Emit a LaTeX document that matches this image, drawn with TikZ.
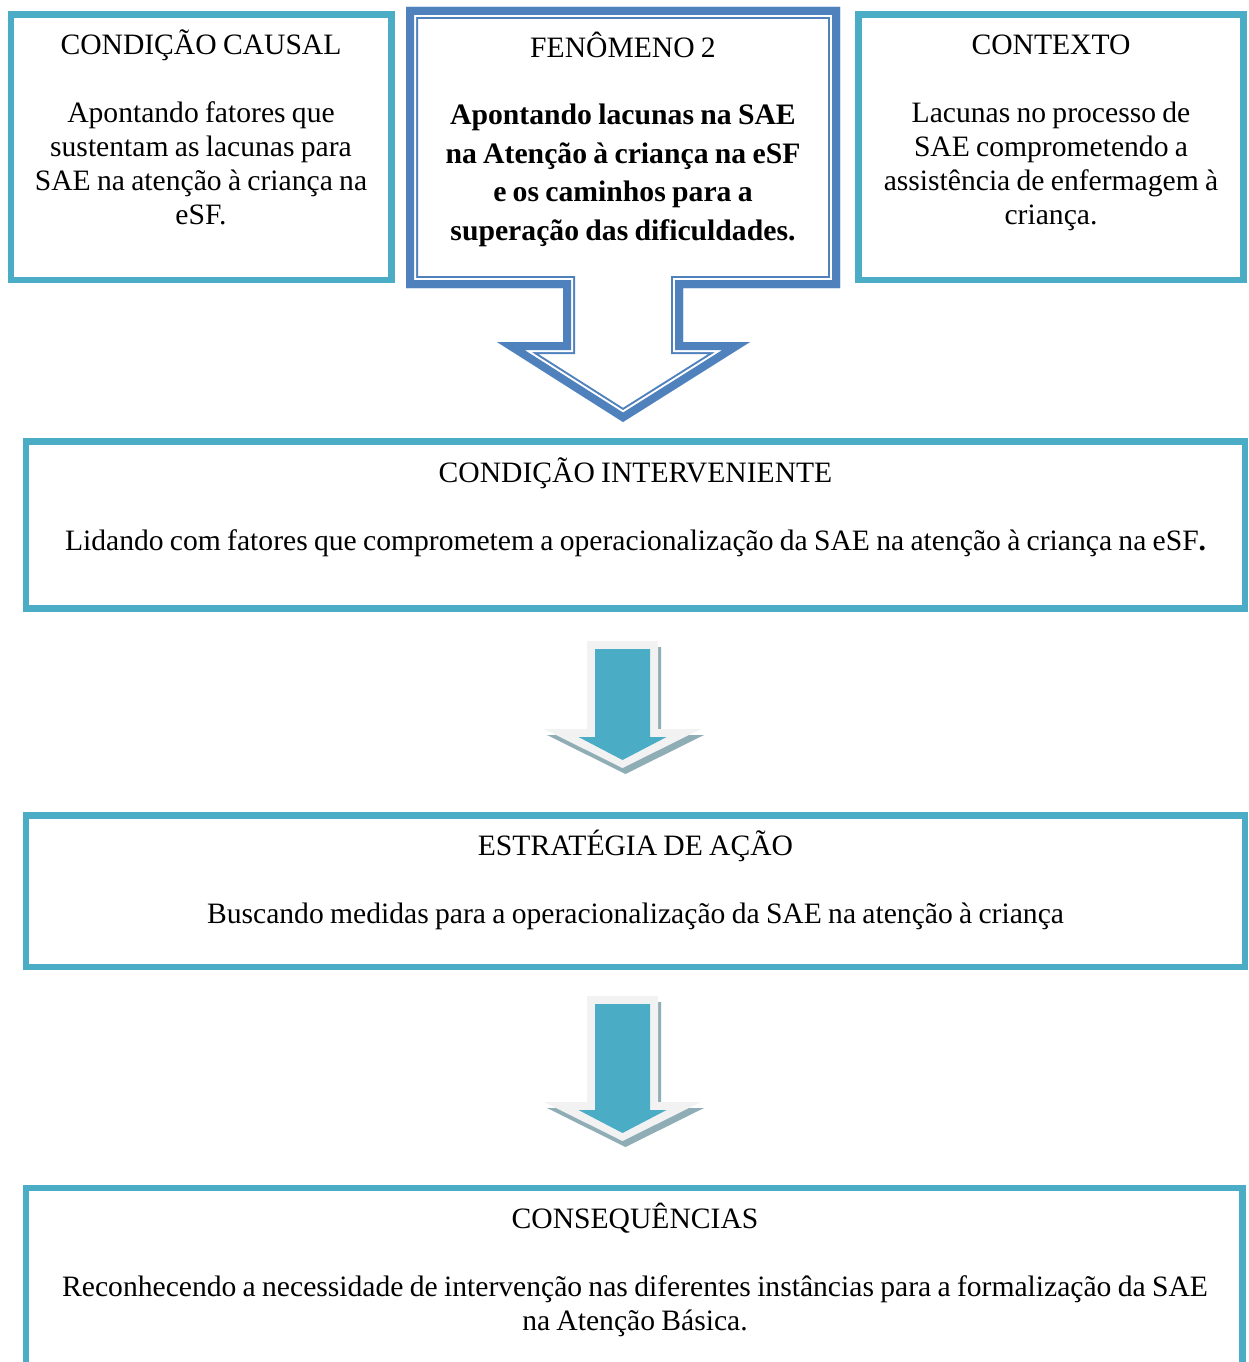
\documentclass[tikz,border=0pt]{standalone}
\usepackage{fontspec}
\setmainfont[WordSpace=0.85]{Liberation Serif}
\definecolor{tealc}{HTML}{4BACC6}
\definecolor{fenblue}{HTML}{4F81BD}
\definecolor{arrgray}{HTML}{F2F2F2}
\definecolor{shadowc}{HTML}{8FADB4}
\begin{document}
\begin{tikzpicture}[x=0.02cm,y=-0.02cm,line join=miter,
  tealbox/.style={draw=tealc,line width=0.13cm,inner sep=0pt},
  txt/.style={font=\fontsize{16.85}{19.35}\selectfont,inner sep=0pt,anchor=base,align=flush center,text width=#1},
  txt/.default=9cm,
  line/.style={font=\fontsize{16.85}{19.35}\selectfont,inner sep=0pt,anchor=base},
  boldtxt/.style={font=\fontsize{16.9}{21.9}\selectfont\bfseries,inner sep=0pt,anchor=base,align=flush center,text width=8cm}]
\useasboundingbox[fill=white] (0,0) rectangle (1248,1362);

% ---------- top boxes ----------
\node[tealbox,minimum width=7.61cm,minimum height=5.31cm] (causal) at (201.25,147.25) {};
\node[tealbox,minimum width=7.70cm,minimum height=5.31cm] (contexto) at (1051,147.25) {};

% ---------- phenomenon callout (compound border) ----------
\coordinate (f1) at (406,7);
\coordinate (f2) at (840,7);
\coordinate (f3) at (840,288);
\coordinate (f4) at (683,288);
\coordinate (f5) at (683,342);
\coordinate (f6) at (750,342);
\coordinate (f7) at (623,422);
\coordinate (f8) at (497,342);
\coordinate (f9) at (563,342);
\coordinate (f10) at (563,288);
\coordinate (f11) at (406,288);
\begin{scope}
  \clip (f1)--(f2)--(f3)--(f4)--(f5)--(f6)--(f7)--(f8)--(f9)--(f10)--(f11)--cycle;
  \draw[fenblue,line width=0.48cm] (f1)--(f2)--(f3)--(f4)--(f5)--(f6)--(f7)--(f8)--(f9)--(f10)--(f11)--cycle;
  \draw[white,line width=0.40cm] (f1)--(f2)--(f3)--(f4)--(f5)--(f6)--(f7)--(f8)--(f9)--(f10)--(f11)--cycle;
  \draw[fenblue,line width=0.32cm] (f1)--(f2)--(f3)--(f4)--(f5)--(f6)--(f7)--(f8)--(f9)--(f10)--(f11)--cycle;
\end{scope}

% ---------- wide boxes ----------
\node[tealbox,minimum width=24.38cm,minimum height=3.34cm] (interv) at (635.5,525) {};
\node[tealbox,minimum width=24.38cm,minimum height=3.03cm] (estrat) at (635.5,891.25) {};
\node[tealbox,minimum width=24.33cm,minimum height=5.0cm] (conseq) at (634.25,1313) {};

% ---------- small block arrows ----------
\foreach \top/\L in {641/88, 996/106} {
  \begin{scope}[shift={(622.5,\top)}]
    \fill[shadowc] (-32.5,6)--(38.5,6)--(38.5,\L+6)--(81.5,\L+6)--(3,\L+45)--(-75.5,\L+6)--(-32.5,\L+6)--cycle;
    \fill[arrgray] (-35.5,0)--(35.5,0)--(35.5,\L)--(78.5,\L)--(0,\L+39)--(-78.5,\L)--(-35.5,\L)--cycle;
    \fill[tealc] (-27.5,8)--(27.5,8)--(27.5,\L+8)--(44,\L+8)--(0,\L+31)--(-44,\L+8)--(-27.5,\L+8)--cycle;
  \end{scope}
}

% ---------- texts ----------
\node[line] (causalT) at (201,55) {CONDIÇÃO CAUSAL};
\node[txt] (causalB) at (201,123) {Apontando fatores que\\sustentam as lacunas para\\SAE na atenção à criança na\\eSF.};

\node[line] (fenT) at (623,58) {FENÔMENO 2};
\node[boldtxt] (fenB) at (623,125) {Apontando lacunas na SAE\\na Atenção à criança na eSF\\e os caminhos para a\\superação das dificuldades.};

\node[line] (contT) at (1051,55) {CONTEXTO};
\node[txt] (contB) at (1051,123) {Lacunas no processo de\\SAE comprometendo a\\assistência de enfermagem à\\criança.};

\node[line] (intT) at (635.5,482) {CONDIÇÃO INTERVENIENTE};
\node[line] (intB) at (635.5,550) {Lidando com fatores que comprometem a operacionalização da SAE na atenção à criança na eSF\textbf{.}};

\node[line] (estT) at (635.5,855) {ESTRATÉGIA DE AÇÃO};
\node[line] (estB) at (635.5,923) {Buscando medidas para a operacionalização da SAE na atenção à criança};

\node[line] (conT) at (635,1228) {CONSEQUÊNCIAS};
\node[txt=24cm] (conB) at (635,1296) {Reconhecendo a necessidade de intervenção nas diferentes instâncias para a formalização da SAE\\na Atenção Básica.};
\end{tikzpicture}
\end{document}
